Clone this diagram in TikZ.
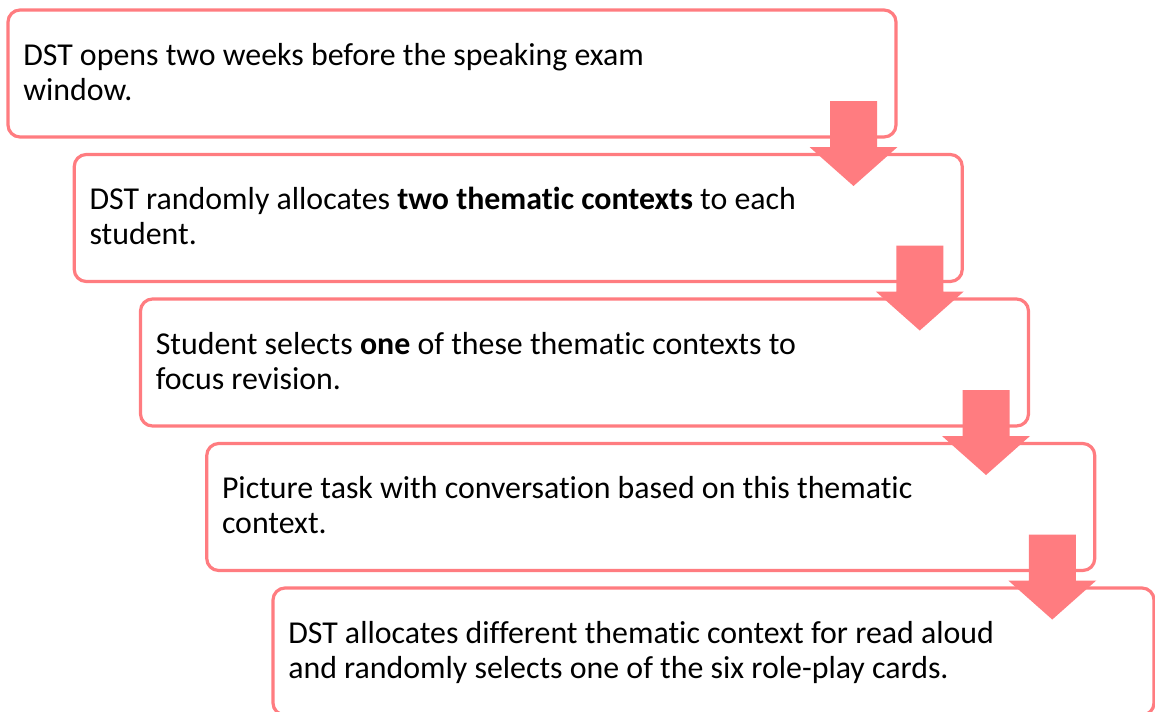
\documentclass[tikz,border=0pt]{standalone}
\usepackage{fontspec}
\setmainfont{Carlito}[Ligatures=NoCommon]
\usetikzlibrary{calc}
\definecolor{pk}{HTML}{FF7C80}
\begin{document}
\begin{tikzpicture}[x=0.75pt,y=-0.75pt,
  stepbox/.style={draw=pk, line width=2.4pt, rounded corners=9pt, fill=white,
    minimum width=666pt, minimum height=95.25pt, inner sep=0pt, outer sep=0pt, anchor=north west},
  txt/.style={anchor=base west, align=left, inner sep=0pt,
    font=\fontsize{23.9pt}{26.25pt}\selectfont},
  downarrow/.pic={\fill[pk] (-23.5,0) -- (23.5,0) -- (23.5,46) -- (44,46) -- (0,85)
    -- (-44,46) -- (-23.5,46) -- cycle;}]
\useasboundingbox (0,0) rectangle (1155,711);
\clip (0,0) rectangle (1155,711);
\node[stepbox] (b1) at (8,10) {};
\node[stepbox] (b2) at (74.25,154.5) {};
\node[stepbox] (b3) at (140.5,299) {};
\node[stepbox] (b4) at (206.75,443.5) {};
\node[stepbox, minimum width=660.75pt] (b5) at (273,588) {};
\node[txt] (t1) at ($(b1.north west)+(15,90)$) {DST opens two weeks before the speaking exam\\window.};
\node[txt] (t2) at ($(b2.north west)+(15,90)$) {DST randomly allocates \textbf{two thematic contexts} to each\\student.};
\node[txt] (t3) at ($(b3.north west)+(15,90)$) {Student selects \textbf{one} of these thematic contexts to\\focus revision.};
\node[txt] (t4) at ($(b4.north west)+(15,90)$) {Picture task with conversation based on this thematic\\context.};
\node[txt] (t5) at ($(b5.north west)+(15,90)$) {DST allocates different thematic context for read aloud\\and randomly selects one of the six role-play cards.};
\pic at ($(b1.south east)+(-42.5,-36)$) {downarrow};
\pic at ($(b2.south east)+(-42.5,-36)$) {downarrow};
\pic at ($(b3.south east)+(-42.5,-36)$) {downarrow};
\pic at ($(b4.south east)+(-42.5,-36)$) {downarrow};
\end{tikzpicture}
\end{document}
